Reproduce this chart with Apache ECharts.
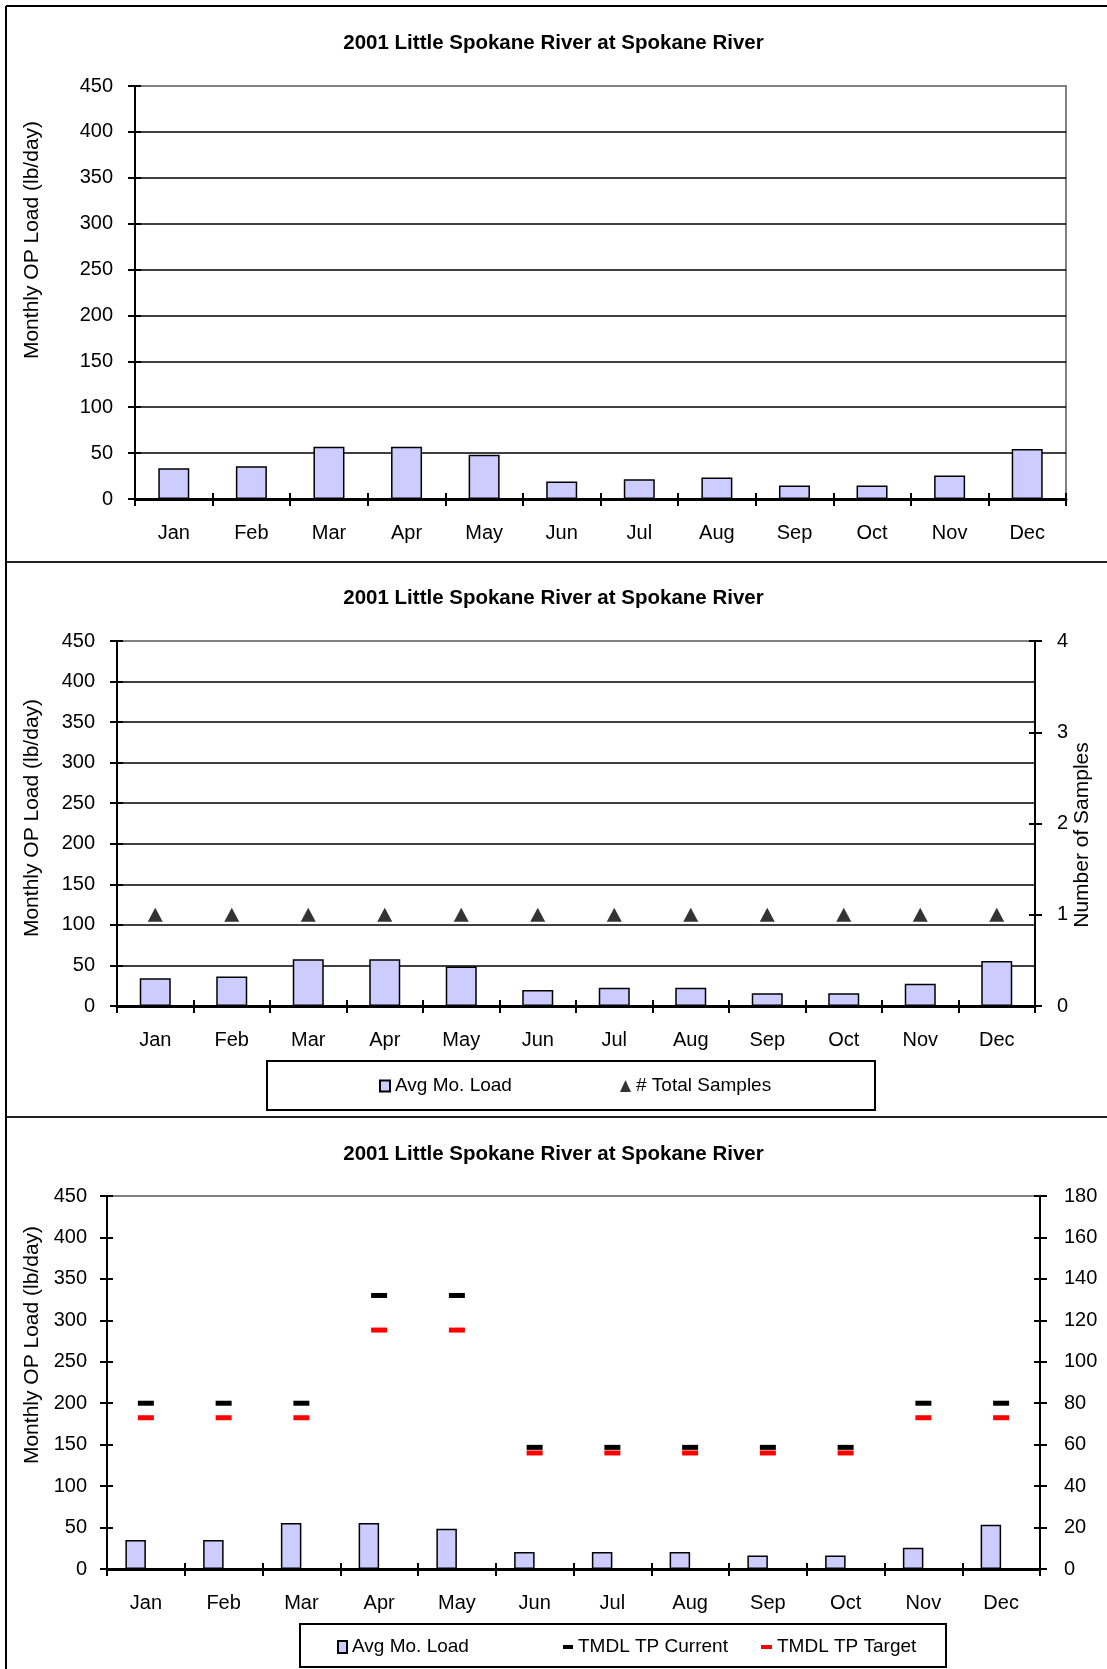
<!DOCTYPE html>
<html>
<head>
<meta charset="utf-8">
<script src="https://cdn.jsdelivr.net/npm/echarts@6/dist/echarts.min.js"></script>
<style>
html,body{margin:0;padding:0;background:#fff;}
#chart{width:1107px;height:1669px;}
</style>
</head>
<body>
<div id="chart"></div>
<script>
// ---- data ----
const months = ['Jan','Feb','Mar','Apr','May','Jun','Jul','Aug','Sep','Oct','Nov','Dec'];
const titleText = '2001 Little Spokane River at Spokane River';
const loadTicksLeft = {min:0, max:450, interval:50};
const samplesTicks = {min:0, max:4, interval:1};
const tmdlTicks = {min:0, max:180, interval:20};
// Chart 1: Avg monthly OP load (lb/day)
const avgLoad1 = [33.5, 35.8, 56.8, 56.8, 48.3, 19.1, 21.4, 23.4, 14.8, 14.8, 25.7, 54.5];
// Chart 2
const avgLoad2 = [34.3, 36.5, 57.6, 57.6, 48.8, 19.8, 22.4, 22.4, 15.8, 15.8, 27.3, 55.4];
const totalSamples = [1,1,1,1,1,1,1,1,1,1,1,1];
// Chart 3
const avgLoad3 = [35.0, 35.0, 55.5, 55.5, 48.6, 20.5, 20.5, 20.5, 16.2, 16.2, 25.6, 53.3];
const tmdlCurrent = [80, 80, 80, 132, 132, 58.7, 58.7, 58.7, 58.7, 58.7, 80, 80];
const tmdlTarget = [73, 73, 73, 115.3, 115.3, 56, 56, 56, 56, 56, 73, 73];
const hiddenColumn = [null,null,null,null,null,null,null,null,null,null,null,null];

const FF = '"Liberation Sans", Arial, sans-serif';
const chart = echarts.init(document.getElementById('chart'));

const grids = [
  {left:135, top:86, width:931, height:413},
  {left:117, top:641, width:918, height:365},
  {left:107, top:1196, width:933, height:373}
];

function xMain(gi){
  return {type:'category', gridIndex:gi, data:months, position:'bottom',
    axisLine:{show:true, lineStyle:{color:'#000', width:3}},
    axisTick:{show:true, length:7, lineStyle:{color:'#000', width:2}},
    axisLabel:{color:'#000', fontSize:20, margin:24, fontFamily:FF},
    splitLine:{show:false}};
}
function xInner(gi){
  return {type:'category', gridIndex:gi, data:months, position:'bottom',
    axisLine:{show:false},
    axisTick:{show:true, inside:true, length:6, lineStyle:{color:'#000', width:2}},
    axisLabel:{show:false}, splitLine:{show:false}};
}
function yAxis(gi, ticks, pos, opts){
  opts = opts || {};
  const grid = opts.grid;
  const splitColors = [];
  const n = Math.round((ticks.max - ticks.min)/ticks.interval) + 1;
  for (let i=0;i<n;i++) splitColors.push(i===n-1 ? '#808080' : '#000');
  return {type:'value', gridIndex:gi, position:pos, min:ticks.min, max:ticks.max, interval:ticks.interval,
    axisLine:{show:!opts.inner, lineStyle:{color:'#000', width:2}},
    axisTick:{show:true, inside:!!opts.inner, length:opts.inner?6:7, lineStyle:{color:'#000', width:2}},
    axisLabel:{show:!opts.inner, color:'#000', fontSize:20, margin:opts.margin||22, fontFamily:FF},
    splitLine:{show:!!grid, lineStyle:{color:splitColors, width:1.5}}};
}

const barStyle = {color:'#CCCCFF', borderColor:'#000', borderWidth:1.5};
const titleStyle = {fontSize:20.5, fontWeight:'bold', color:'#000', fontFamily:FF};
const nameStyle = {fontSize:21, fill:'#000', fontFamily:FF, align:'center', verticalAlign:'middle'};

const option = {
  animation:false,
  backgroundColor:'#fff',
  textStyle:{fontFamily:FF},
  title:[
    {text:titleText, left:'center', top:33, padding:0, textStyle:titleStyle},
    {text:titleText, left:'center', top:588, padding:0, textStyle:titleStyle},
    {text:titleText, left:'center', top:1144, padding:0, textStyle:titleStyle}
  ],
  grid: grids.map(g => Object.assign({show:true, borderColor:'#808080', borderWidth:2, backgroundColor:'transparent'}, g)),
  xAxis:[xMain(0), xInner(0), xMain(1), xInner(1), xMain(2), xInner(2)],
  yAxis:[
    yAxis(0, loadTicksLeft, 'left', {grid:true, margin:22}),          //0
    yAxis(0, loadTicksLeft, 'left', {inner:true}),                    //1
    yAxis(1, loadTicksLeft, 'left', {grid:true, margin:22}),          //2
    yAxis(1, loadTicksLeft, 'left', {inner:true}),                    //3
    yAxis(1, samplesTicks, 'right', {margin:22}),                     //4
    yAxis(1, samplesTicks, 'right', {inner:true}),                    //5
    yAxis(2, loadTicksLeft, 'left', {margin:20}),                     //6
    yAxis(2, loadTicksLeft, 'left', {inner:true}),                    //7
    yAxis(2, tmdlTicks, 'right', {margin:24}),                        //8
    yAxis(2, tmdlTicks, 'right', {inner:true})                        //9
  ],
  legend:[
    {left:379, top:1076, padding:0, selectedMode:false, itemWidth:10, itemHeight:11,
     data:[{name:'Avg Mo. Load', icon:'rect'}], textStyle:{fontSize:19, color:'#000', lineHeight:20, fontFamily:FF}},
    {left:620, top:1076, padding:0, selectedMode:false, itemWidth:11, itemHeight:12,
     data:[{name:'# Total Samples', icon:'triangle'}], textStyle:{fontSize:19, color:'#000', lineHeight:20, fontFamily:FF}},
    {left:337, top:1637, padding:0, selectedMode:false, itemWidth:9, itemHeight:12,
     data:[{name:'Avg Mo. Load', icon:'rect'}], textStyle:{fontSize:19, color:'#000', lineHeight:20, fontFamily:FF}},
    {left:563, top:1637, padding:0, selectedMode:false, itemWidth:10, itemHeight:4,
     data:[{name:'TMDL TP Current', icon:'rect'}], textStyle:{fontSize:19, color:'#000', lineHeight:20, fontFamily:FF}},
    {left:761, top:1637, padding:0, selectedMode:false, itemWidth:11, itemHeight:4,
     data:[{name:'TMDL TP Target', icon:'rect'}], textStyle:{fontSize:19, color:'#000', lineHeight:20, fontFamily:FF}}
  ],
  series:[
    {name:'Avg Mo. Load', type:'bar', xAxisIndex:0, yAxisIndex:0, data:avgLoad1, barWidth:31, itemStyle:barStyle},
    {name:'Avg Mo. Load', type:'bar', xAxisIndex:2, yAxisIndex:2, data:avgLoad2, barWidth:31, itemStyle:barStyle},
    {name:'# Total Samples', type:'scatter', xAxisIndex:2, yAxisIndex:4, data:totalSamples, symbol:'triangle', symbolSize:[15,14], itemStyle:{color:'#000'}, z:5},
    {name:'Avg Mo. Load', type:'bar', xAxisIndex:4, yAxisIndex:6, data:avgLoad3, barWidth:20.5, barGap:'0%', itemStyle:barStyle},
    {name:'hidden', type:'bar', xAxisIndex:4, yAxisIndex:6, data:hiddenColumn, barWidth:20.5, barGap:'0%', itemStyle:{color:'transparent'}},
    {name:'TMDL TP Current', type:'scatter', xAxisIndex:4, yAxisIndex:8, data:tmdlCurrent, symbol:'rect', symbolSize:[16,5], itemStyle:{color:'#000', opacity:1}, z:5},
    {name:'TMDL TP Target', type:'scatter', xAxisIndex:4, yAxisIndex:8, data:tmdlTarget, symbol:'rect', symbolSize:[16,5], itemStyle:{color:'#FF0000', opacity:1}, z:5}
  ],
  graphic:[
    {type:'line', shape:{x1:6,y1:6,x2:1107,y2:6}, style:{stroke:'#000', lineWidth:2}},
    {type:'line', shape:{x1:6,y1:562,x2:1107,y2:562}, style:{stroke:'#222', lineWidth:2}},
    {type:'line', shape:{x1:6,y1:1117,x2:1107,y2:1117}, style:{stroke:'#222', lineWidth:2}},
    {type:'line', shape:{x1:6,y1:6,x2:6,y2:1669}, style:{stroke:'#000', lineWidth:2}},
    {type:'rect', shape:{x:267,y:1061,width:608,height:49}, style:{fill:'none', stroke:'#000', lineWidth:2}},
    {type:'rect', shape:{x:300,y:1624,width:646,height:43}, style:{fill:'none', stroke:'#000', lineWidth:2}},
    {type:'text', x:32, y:240, rotation:Math.PI/2, style:Object.assign({text:'Monthly OP Load (lb/day)'}, nameStyle)},
    {type:'text', x:32, y:818, rotation:Math.PI/2, style:Object.assign({text:'Monthly OP Load (lb/day)'}, nameStyle)},
    {type:'text', x:32, y:1345, rotation:Math.PI/2, style:Object.assign({text:'Monthly OP Load (lb/day)'}, nameStyle)},
    {type:'text', x:1082, y:835, rotation:Math.PI/2, style:Object.assign({text:'Number of Samples'}, nameStyle)}
  ]
};
chart.setOption(option);
</script>
</body>
</html>
